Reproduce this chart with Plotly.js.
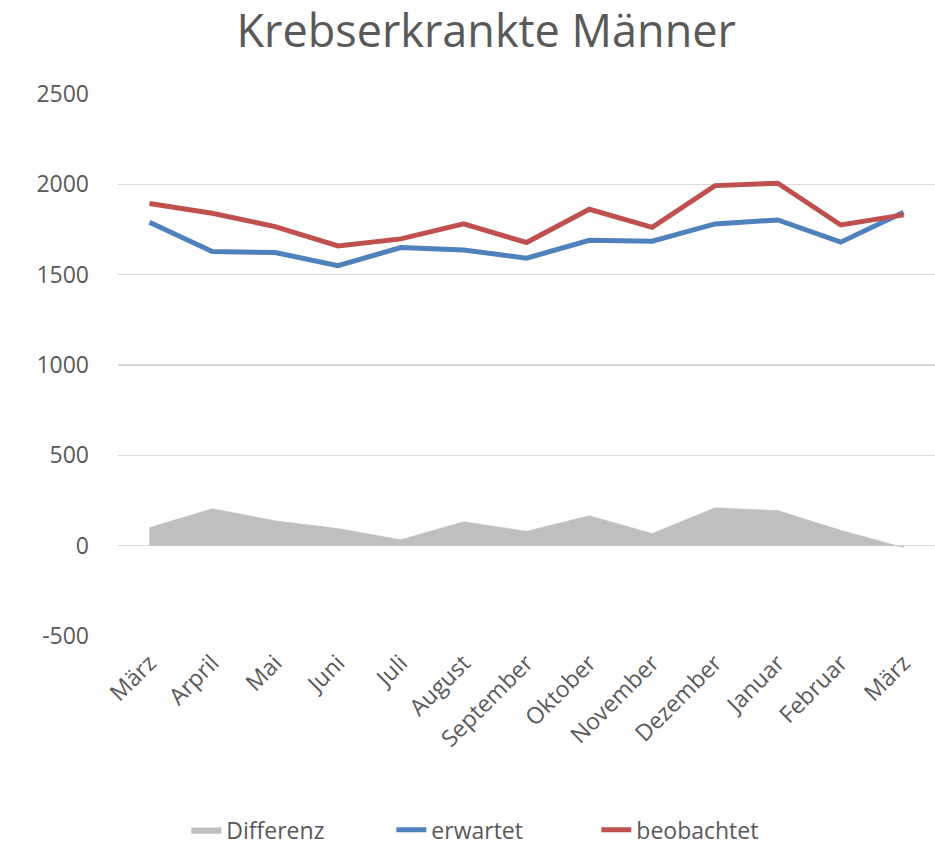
<!DOCTYPE html>
<html>
<head>
<meta charset="utf-8">
<script src="https://cdn.plot.ly/plotly-3.0.1.min.js"></script>
<style>html,body{margin:0;padding:0;background:#fff;}#chart{width:935px;height:845px;}</style>
</head>
<body>
<div id="chart"></div>
<script>
const months = ["März","Arpril","Mai","Juni","Juli","August","September","Oktober","November","Dezember","Januar","Februar","März"];
const differenz = [100, 205, 138, 95, 33, 133, 80, 166, 68, 210, 194, 85, -10];
const erwartet = [1790, 1628, 1623, 1550, 1650, 1637, 1591, 1690, 1685, 1781, 1803, 1680, 1845];
const beobachtet = [1894, 1840, 1766, 1659, 1698, 1781, 1678, 1862, 1762, 1993, 2006, 1775, 1831];
const yTicks = [-500, 0, 500, 1000, 1500, 2000, 2500];

const idx = months.map((m, i) => i);
const FONT = "Open Sans, Noto Sans, sans-serif";
const grey = "#595959";

const traces = [
  {x: idx, y: differenz, name: "Differenz", type: "scatter", mode: "lines",
   fill: "tozeroy", fillcolor: "#bfbfbf", line: {color: "#bfbfbf", width: 0.5}},
  {x: idx, y: erwartet, name: "erwartet", type: "scatter", mode: "lines",
   line: {color: "#4f81bd", width: 5}},
  {x: idx, y: beobachtet, name: "beobachtet", type: "scatter", mode: "lines",
   line: {color: "#c0504d", width: 5}}
];

const layout = {
  width: 935, height: 845,
  margin: {l: 118, r: 0, t: 94, b: 209},
  paper_bgcolor: "#fff", plot_bgcolor: "#fff",
  font: {family: FONT, color: grey},
  title: {text: "Krebserkrankte Männer", font: {size: 45, color: grey, family: FONT},
          x: 0.52, xanchor: "center", yref: "paper", y: 1, yanchor: "bottom",
          pad: {b: 47}, automargin: false},
  xaxis: {range: [-0.5, 12.5], tickvals: idx, ticktext: months, tickangle: -45,
          tickfont: {size: 23, color: grey}, showgrid: false, zeroline: false,
          showline: false, ticks: "", ticklabelstandoff: 8, fixedrange: true, automargin: false},
  yaxis: {range: [-500, 2500], tickvals: yTicks, ticktext: yTicks.map(String),
          tickfont: {size: 23, color: grey}, showgrid: true, gridcolor: "#d9d9d9",
          gridwidth: 1.5, zeroline: true, zerolinecolor: "#d9d9d9", zerolinewidth: 1.5,
          ticks: "", ticklen: 0, ticklabelstandoff: 28, fixedrange: true, automargin: false},
  showlegend: true,
  legend: {orientation: "h", x: 0.46, xanchor: "center", yref: "container", y: 0.018, yanchor: "middle",
           entrywidth: 160, font: {size: 23, color: grey}, traceorder: "normal"}
};

Plotly.newPlot("chart", traces, layout, {displayModeBar: false, staticPlot: true});
</script>
</body>
</html>
